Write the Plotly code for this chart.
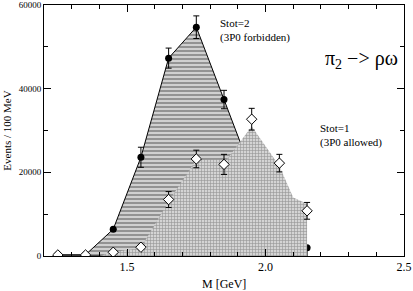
import plotly.graph_objects as go

# Data points: Stot=2 (filled circles)
x_s2 = [1.25, 1.35, 1.45, 1.55, 1.65, 1.75, 1.85, 1.95, 2.05, 2.15]
y_s2 = [300, 300, 6400, 23600, 47300, 54700, 37400, 20000, 4000, 2000]
e_s2 = [0, 0, 0, 2400, 2400, 2700, 2200, 2000, 1500, 0]

# Data points: Stot=1 (open diamonds)
x_s1 = [1.25, 1.35, 1.45, 1.55, 1.65, 1.75, 1.85, 1.95, 2.05, 2.15]
y_s1 = [250, 250, 900, 2100, 13500, 23200, 21900, 32700, 22200, 10800]
e_s1 = [0, 0, 0, 0, 1900, 2100, 2400, 2600, 2100, 2000]

# Stot=2 hatched band outline
band2_x = [1.25, 1.35, 1.45, 1.55, 1.65, 1.75, 1.85, 1.95, 2.05, 2.15, 2.15, 1.25]
band2_y = [300, 300, 6400, 23600, 47300, 54700, 37400, 20000, 4000, 2000, 0, 0]

# Stot=1 dotted band outline
band1_x = [1.40, 1.45, 1.55, 1.65, 1.75, 1.86, 1.95, 2.05, 2.10, 2.15, 2.15, 1.40]
band1_y = [0, 900, 2000, 13000, 23000, 23000, 31000, 21500, 14000, 12500, 0, 0]

y_ticks = [0, 20000, 40000, 60000]
y_ticktext = ["0", "20000", "40000", "60000"]
x_ticks = [1.5, 2.0, 2.5]
x_ticktext = ["1.5", "2.0", "2.5"]

serif = "'Liberation Serif', 'Times New Roman', serif"

fig = go.Figure()

fig.add_trace(go.Scatter(
    x=band2_x, y=band2_y, mode="lines", fill="toself",
    line=dict(color="black", width=1),
    fillcolor="white",
    fillpattern=dict(shape="-", fgcolor="#222222", bgcolor="#d0d0d0", size=4, solidity=0.35),
    hoverinfo="skip", showlegend=False))

fig.add_trace(go.Scatter(
    x=x_s2, y=y_s2, mode="markers",
    marker=dict(symbol="circle", size=7, color="black"),
    error_y=dict(type="data", array=e_s2, color="black", thickness=1, width=3),
    showlegend=False))

fig.add_trace(go.Scatter(
    x=band1_x, y=band1_y, mode="lines", fill="toself",
    line=dict(color="rgba(0,0,0,0)", width=0),
    fillcolor="white",
    fillpattern=dict(shape="+", fgcolor="#555555", bgcolor="#d4d4d4", size=3, solidity=0.35),
    hoverinfo="skip", showlegend=False))

fig.add_trace(go.Scatter(
    x=x_s1, y=y_s1, mode="markers",
    marker=dict(symbol="diamond", size=8, color="white", line=dict(color="black", width=1)),
    error_y=dict(type="data", array=e_s1, color="black", thickness=1, width=3),
    showlegend=False))

axis_common = dict(
    showgrid=False, zeroline=False, showline=True, linecolor="black", linewidth=1,
    mirror="ticks", ticks="inside", ticklen=7, tickcolor="black", automargin=False,
)

fig.update_xaxes(
    range=[1.2, 2.5], tickvals=x_ticks, ticktext=x_ticktext,
    minor=dict(dtick=0.1, tick0=1.2, ticks="inside", ticklen=4, tickcolor="black"),
    tickfont=dict(family=serif, size=12, color="black"),
    **axis_common)
fig.update_yaxes(
    range=[0, 60000], tickvals=y_ticks, ticktext=y_ticktext,
    minor=dict(dtick=10000, ticks="inside", ticklen=4, tickcolor="black"),
    tickfont=dict(family=serif, size=9, color="black"),
    **axis_common)

ann_font = dict(family=serif, size=11, color="black")
fig.add_annotation(x=0.5, y=-0.113, xref="paper", yref="paper", xanchor="center", yanchor="middle",
                   text="M [GeV]", showarrow=False, font=dict(family=serif, size=12, color="black"))
fig.add_annotation(x=-0.105, y=0.5, xref="paper", yref="paper", xanchor="center", yanchor="middle",
                   text="Events / 100 MeV", textangle=-90, showarrow=False,
                   font=dict(family=serif, size=11, color="black"))
fig.add_annotation(x=1.83, y=53800, xref="x", yref="y", xanchor="left", yanchor="middle",
                   text="Stot=2<br>(3P0 forbidden)", showarrow=False, font=ann_font, align="left")
fig.add_annotation(x=2.19, y=28700, xref="x", yref="y", xanchor="left", yanchor="middle",
                   text="Stot=1<br>(3P0 allowed)", showarrow=False, font=ann_font, align="left")
fig.add_annotation(x=2.487, y=47000, xref="x", yref="y", xanchor="right", yanchor="middle",
                   text="π<sub>2</sub> −> ρω", showarrow=False,
                   font=dict(family=serif, size=20, color="black"))

fig.update_layout(
    width=413, height=291,
    margin=dict(l=44, r=9, t=5, b=35),
    plot_bgcolor="white", paper_bgcolor="white",
    showlegend=False,
)

fig.write_html("out.html", config={"displayModeBar": False},
               post_script="document.body.style.margin='0';document.body.style.overflow='hidden';")
